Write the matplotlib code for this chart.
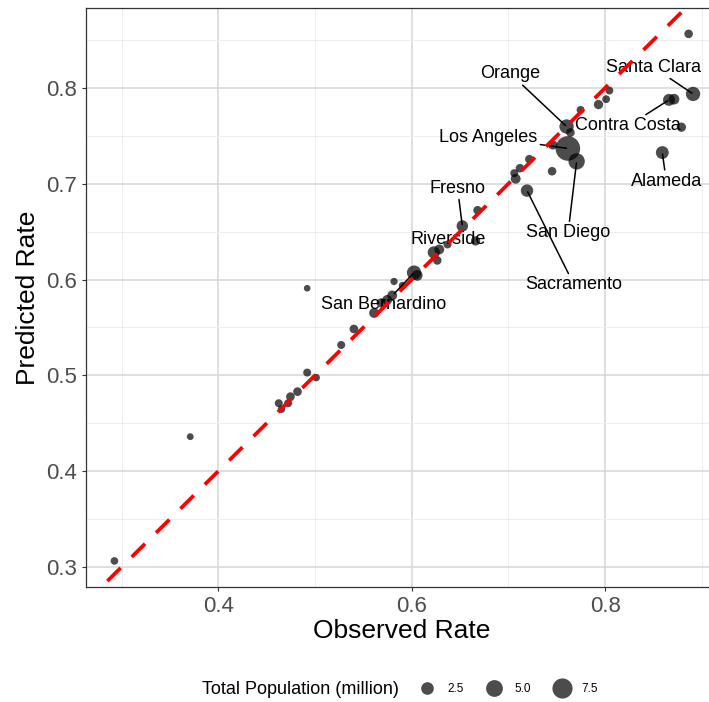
import numpy as np
import matplotlib
matplotlib.use("Agg")
import matplotlib.pyplot as plt
from matplotlib.lines import Line2D

plt.rcParams['font.family'] = ['Liberation Sans', 'DejaVu Sans']

# ---- data ----
observed = [0.8863, 0.8909, 0.8660, 0.8712, 0.8788, 0.8591, 0.8044, 0.8010, 0.7931, 0.7746,
            0.7601, 0.7641, 0.7614, 0.7458, 0.7705, 0.7451, 0.7216, 0.7119, 0.7060, 0.7075,
            0.7192, 0.6681, 0.6523, 0.6660, 0.6370, 0.6228, 0.6285, 0.6264, 0.6024, 0.6057,
            0.5817, 0.5904, 0.5798, 0.5746, 0.5684, 0.5611, 0.5402, 0.5271, 0.4919, 0.4919,
            0.5012, 0.4819, 0.4746, 0.4625, 0.4722, 0.4653, 0.3710, 0.2926]
predicted = [0.8564, 0.7937, 0.7875, 0.7882, 0.7590, 0.7325, 0.7972, 0.7882, 0.7826, 0.7770,
             0.7597, 0.7534, 0.7368, 0.7405, 0.7233, 0.7130, 0.7256, 0.7162, 0.7110, 0.7052,
             0.6928, 0.6723, 0.6559, 0.6403, 0.6366, 0.6283, 0.6314, 0.6199, 0.6072, 0.6043,
             0.5980, 0.5938, 0.5834, 0.5787, 0.5756, 0.5651, 0.5484, 0.5317, 0.5909, 0.5029,
             0.4976, 0.4830, 0.4778, 0.4709, 0.4709, 0.4646, 0.4360, 0.3063]
population = [0.57, 2.9, 1.8, 1.3, 0.8, 2.2, 0.35, 0.35, 0.8, 0.4,
              2.9, 0.6, 10.0, 0.8, 4.0, 0.57, 0.57, 0.57, 0.4, 1.0,
              2.0, 0.57, 1.6, 0.8, 0.4, 1.9, 1.0, 0.57, 2.9, 1.3,
              0.2, 0.2, 1.0, 1.0, 0.8, 1.0, 0.6, 0.4, 0.05, 0.4,
              0.25, 0.6, 0.6, 0.4, 0.4, 0.25, 0.1, 0.3]

label_names = ["Orange", "Santa Clara", "Contra Costa", "Los Angeles", "Alameda",
               "Fresno", "San Diego", "Sacramento", "Riverside", "San Bernardino"]
label_point_index = [10, 1, 2, 12, 5, 22, 14, 20, 25, 28]
label_text_xy = [(0.7023, 0.8146), (0.8497, 0.8216), (0.8238, 0.7603), (0.6793, 0.7485),
                 (0.8632, 0.7026), (0.6474, 0.6953), (0.7617, 0.6490), (0.7679, 0.5944),
                 (0.6373, 0.6413), (0.5710, 0.5735)]
label_segment = [True, True, True, True, True, True, True, True, False, True]

legend_values = [2.5, 5.0, 7.5]

# ---- figure ----
W, H, DPI = 709, 702, 100
fig = plt.figure(figsize=(W / DPI, H / DPI), dpi=DPI)
left_px, right_px, top_px, bottom_px = 85.5, 722.0, 7.5, 587.3
aw, ah = right_px - left_px, bottom_px - top_px
ax = fig.add_axes([left_px / W, 1 - bottom_px / H, aw / W, ah / H])

def size_pts2(pop):
    d_px = 1.07 * np.sqrt(36 + 49.3 * np.asarray(pop))
    return (d_px * 72 / DPI) ** 2

obs = np.array(observed)
pred = np.array(predicted)
ax.scatter(obs, pred, s=size_pts2(population), color='black', alpha=0.7,
           linewidths=0, zorder=3)

xr = obs.max() - obs.min()
yr = pred.max() - pred.min()
xlim = (obs.min() - 0.05 * xr, obs.max() + 0.05 * xr)
ylim = (pred.min() - 0.05 * yr, pred.max() + 0.05 * yr)
ax.set_xlim(*xlim)
ax.set_ylim(*ylim)

# identity line
lw = 2.7
ax.plot([xlim[0], xlim[1]], [xlim[0], xlim[1]], color='red', lw=lw,
        linestyle=(0.95, (13.5 / lw, 11.2 / lw)), zorder=5, solid_capstyle='butt')

# labels
for name, idx, (tx, ty), seg in zip(label_names, label_point_index, label_text_xy, label_segment):
    if seg:
        ax.annotate(name, xy=(observed[idx], predicted[idx]), xytext=(tx, ty),
                    ha='center', va='center', fontsize=13, color='black', zorder=4,
                    arrowprops=dict(arrowstyle='-', color='black', lw=1.1,
                                    shrinkA=0, shrinkB=1))
    else:
        ax.text(tx, ty, name, ha='center', va='center', fontsize=13, color='black', zorder=4)

# ticks and grid
ax.set_xticks([0.4, 0.6, 0.8])
ax.set_yticks([0.3, 0.4, 0.5, 0.6, 0.7, 0.8])
ax.set_xticks([0.3, 0.5, 0.7, 0.9], minor=True)
ax.set_yticks([0.35, 0.45, 0.55, 0.65, 0.75, 0.85], minor=True)
ax.set_xticklabels(['0.4', '0.6', '0.8'])
ax.set_yticklabels(['0.3', '0.4', '0.5', '0.6', '0.7', '0.8'])
ax.grid(which='major', color='#d6d6d6', lw=1.1, zorder=0)
ax.grid(which='minor', color='#ebebeb', lw=0.6, zorder=0)
ax.set_axisbelow(True)
ax.tick_params(which='major', length=3.0, width=0.8, color='#333333',
               labelsize=16, labelcolor='#4d4d4d', pad=3)
ax.tick_params(which='minor', length=0)
for sp in ax.spines.values():
    sp.set_color('#333333')
    sp.set_linewidth(0.9)

ax.set_xlabel('Observed Rate', fontsize=19, color='black')
ax.set_ylabel('Predicted Rate', fontsize=19, color='black')
ax.xaxis.set_label_coords((402 - left_px) / aw, -(619 - bottom_px) / ah)
ax.yaxis.set_label_coords(-(left_px - 40) / aw, 0.5)

# legend
fs_leg = 8.5
handles = [Line2D([], [], ls='none', marker='o', color='black', alpha=0.7, markeredgewidth=0,
                  markersize=np.sqrt(size_pts2(v)) / 1.07) for v in legend_values]
leg = fig.legend(handles, [f'{v:.1f}' for v in legend_values], ncol=3, frameon=False,
                 loc='center left', bbox_to_anchor=(416 / W, 1 - 689 / H),
                 fontsize=fs_leg, handlelength=1.9, handletextpad=0.75, columnspacing=1.65,
                 borderpad=0, borderaxespad=0)
for t in leg.get_texts():
    t.set_color('black')
fig.text(202 / W, 1 - 689 / H, 'Total Population (million)', fontsize=13,
         ha='left', va='center', color='black')

fig.savefig('out.png', dpi=DPI)
